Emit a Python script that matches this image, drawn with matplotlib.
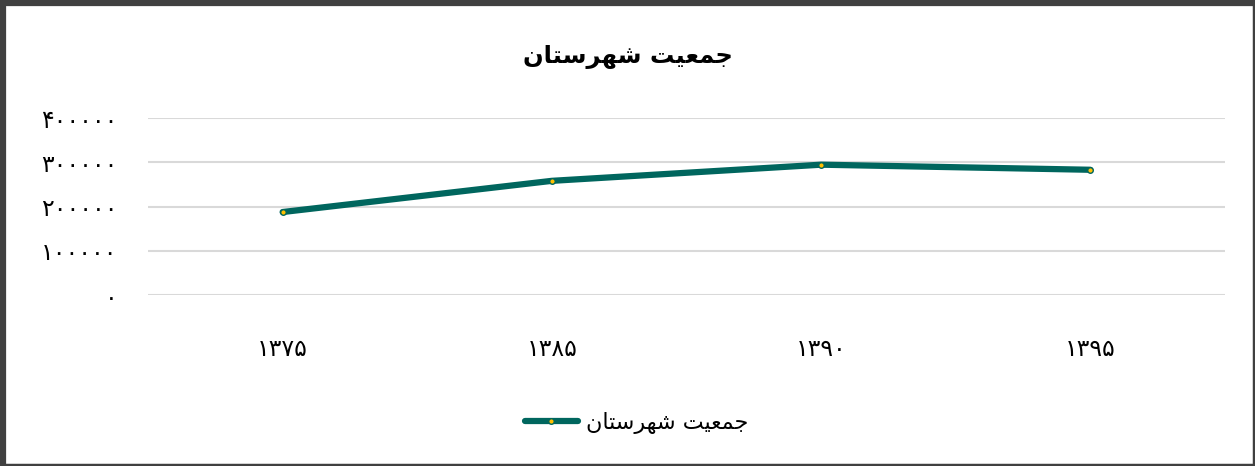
import matplotlib
matplotlib.use('Agg')
import matplotlib.pyplot as plt
from matplotlib.lines import Line2D

# داده ها (Persian text stored in visual order with presentation forms)
years = ['۱۳۷۵', '۱۳۸۵', '۱۳۹۰', '۱۳۹۵']
population = [187500, 258000, 294500, 283000]
y_ticks = [0, 100000, 200000, 300000, 400000]
y_tick_labels = ['۰', '۱۰۰۰۰۰', '۲۰۰۰۰۰', '۳۰۰۰۰۰', '۴۰۰۰۰۰']
title = '\ufee5\ufe8e\ufe98\ufeb3\ufeae\ufeec\ufeb7 \ufe96\ufef4\ufecc\ufee4\ufe9f'

line_color = '#00665E'
marker_color = '#FFC000'

plt.rcParams['font.family'] = ['DejaVu Sans']

fig = plt.figure(figsize=(12.55, 4.66), dpi=100)
ax = fig.add_axes([148 / 1255, 1 - 295 / 466, (1225 - 148) / 1255, (295 - 118) / 466])

x = list(range(len(years)))
ax.plot(x, population, color=line_color, linewidth=4.5, solid_capstyle='round',
        marker='o', markersize=4, markerfacecolor=marker_color,
        markeredgecolor=line_color, markeredgewidth=1, zorder=3)

ax.set_xlim(-0.5, len(years) - 0.5)
ax.set_ylim(0, 400000)
ax.set_xticks(x)
ax.set_xticklabels(years, fontsize=17, color='#000000')
ax.set_yticks(y_ticks)
ax.set_yticklabels(y_tick_labels, fontsize=17, color='#000000')
ax.tick_params(axis='both', length=0)
ax.tick_params(axis='x', pad=30)
ax.tick_params(axis='y', pad=22)
ax.grid(axis='y', color='#D9D9D9', linewidth=1.5)
ax.set_axisbelow(True)
for s in ax.spines.values():
    s.set_visible(False)

fig.text(0.5, 1 - 57 / 466, title, ha='center', va='center',
         fontsize=17.5, fontweight='bold')

handle = Line2D([], [], color=line_color, linewidth=4.5, solid_capstyle='round',
                marker='o', markersize=4, markerfacecolor=marker_color,
                markeredgecolor=line_color)
fig.legend([handle], [title], loc='center', bbox_to_anchor=(0.5 + 9 / 1255, 1 - 423 / 466),
           frameon=False, fontsize=16, handlelength=2.4, handletextpad=0.35)

# قاب دور نمودار
fig.add_artist(Line2D([3 / 1255, 3 / 1255], [0, 1], transform=fig.transFigure, color='#404040', linewidth=4.5))
fig.add_artist(Line2D([0, 1], [1 - 3 / 466, 1 - 3 / 466], transform=fig.transFigure, color='#404040', linewidth=4.5))
fig.add_artist(Line2D([1 - 1.5 / 1255, 1 - 1.5 / 1255], [0, 1], transform=fig.transFigure, color='#404040', linewidth=2.5))
fig.add_artist(Line2D([0, 1], [1.5 / 466, 1.5 / 466], transform=fig.transFigure, color='#404040', linewidth=2.5))

fig.savefig('out.png', dpi=100, facecolor='white')
